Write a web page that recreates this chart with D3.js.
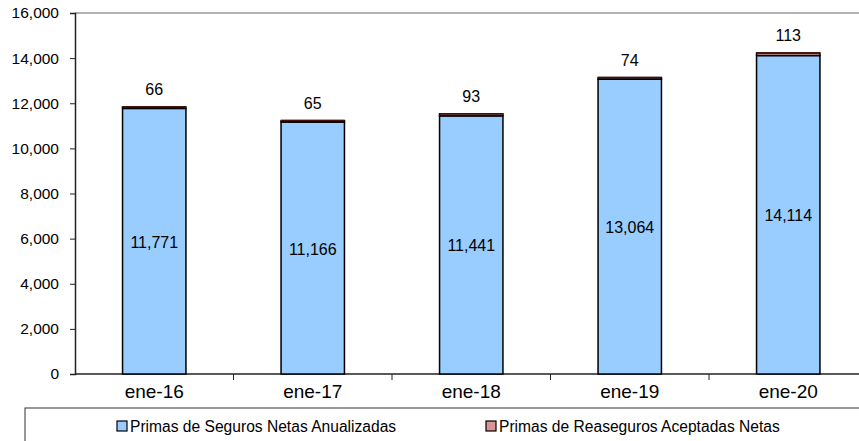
<!DOCTYPE html>
<html>
<head>
<meta charset="utf-8">
<script src="https://cdn.jsdelivr.net/npm/d3@7"></script>
<style>
    body { margin: 0; background: #fff; }
    svg { display: block; font-family: "Liberation Sans", Arial, sans-serif; }
</style>
</head>
<body>
<div id="chart"></div>
<script>
// data
const periods = ["ene-16", "ene-17", "ene-18", "ene-19", "ene-20"];
const primasSeguros = [11771, 11166, 11441, 13064, 14114];
const primasReaseguros = [66, 65, 93, 74, 113];
const yTicks = [0, 2000, 4000, 6000, 8000, 10000, 12000, 14000, 16000];
const seriesNames = ["Primas de Seguros Netas Anualizadas", "Primas de Reaseguros Aceptadas Netas"];
const seriesColors = ["#99ccff", "#d99594"];

let width = 859, height = 441;
let margin = {top: 13, left: 75, bottom: 67};
let plotRight = 867.5;

let svg = d3.select("#chart").append("svg")
    .attr("width", width)
    .attr("height", height);

let x = d3.scaleBand()
    .domain(periods)
    .range([margin.left, plotRight])
    .paddingInner(0.6)
    .paddingOuter(0.3);
let band = d3.scaleBand().domain(periods).range([margin.left, plotRight]);

let y = d3.scaleLinear()
    .domain([0, 16000])
    .range([height - margin.bottom, margin.top]);

// top border line
svg.append("line")
    .attr("x1", margin.left).attr("x2", width)
    .attr("y1", y(16000)).attr("y2", y(16000))
    .attr("stroke", "#999").attr("stroke-width", 1.5);

// y axis
let yAxis = svg.append("g")
    .attr("transform", `translate(${margin.left},0)`)
    .call(d3.axisLeft(y).tickValues(yTicks).tickSize(5).tickFormat(d3.format(",")));
yAxis.select(".domain").attr("stroke", "#222").attr("stroke-width", 1.5);
yAxis.selectAll(".tick line").attr("stroke", "#222");
yAxis.selectAll("text").attr("font-size", 15.5).attr("fill", "#000").attr("x", -16);

// x axis with ticks at band edges
let xAxisG = svg.append("g").attr("transform", `translate(0,${y(0)})`);
xAxisG.append("line")
    .attr("x1", margin.left).attr("x2", width)
    .attr("stroke", "#222").attr("stroke-width", 1.5);
xAxisG.selectAll(".edge")
    .data(periods.slice(1))
    .enter().append("line")
    .attr("class", "edge")
    .attr("x1", d => band(d)).attr("x2", d => band(d))
    .attr("y1", 0).attr("y2", 6)
    .attr("stroke", "#222");
xAxisG.selectAll(".lbl")
    .data(periods)
    .enter().append("text")
    .attr("class", "lbl")
    .attr("x", d => x(d) + x.bandwidth() / 2)
    .attr("y", 24)
    .attr("text-anchor", "middle")
    .attr("font-size", 19)
    .text(d => d);

let rows = periods.map((p, i) => ({key: p, a: primasSeguros[i], b: primasReaseguros[i]}));

// blue bars
svg.selectAll(".barA")
    .data(rows)
    .enter().append("rect")
    .attr("class", "barA")
    .attr("x", d => x(d.key))
    .attr("y", d => y(d.a))
    .attr("width", x.bandwidth())
    .attr("height", d => y(0) - y(d.a))
    .attr("fill", seriesColors[0])
    .attr("stroke", "#000")
    .attr("stroke-width", 1.5);

// reinsurance bars on top
svg.selectAll(".barB")
    .data(rows)
    .enter().append("rect")
    .attr("class", "barB")
    .attr("x", d => x(d.key))
    .attr("y", d => y(d.a + d.b))
    .attr("width", x.bandwidth())
    .attr("height", d => y(d.a) - y(d.a + d.b))
    .attr("fill", seriesColors[1])
    .attr("stroke", "#000")
    .attr("stroke-width", 1.5);
svg.selectAll(".topLine")
    .data(rows)
    .enter().append("line")
    .attr("class", "topLine")
    .attr("x1", d => x(d.key)).attr("x2", d => x(d.key) + x.bandwidth())
    .attr("y1", d => y(d.a + d.b)).attr("y2", d => y(d.a + d.b))
    .attr("stroke", "#4a0d0d").attr("stroke-width", 1.5);

// value labels
svg.selectAll(".lblA")
    .data(rows)
    .enter().append("text")
    .attr("class", "lblA")
    .attr("x", d => x(d.key) + x.bandwidth() / 2)
    .attr("y", d => y(d.a / 2) + 6.5)
    .attr("text-anchor", "middle")
    .attr("font-size", 16)
    .text(d => d3.format(",")(d.a));

svg.selectAll(".lblB")
    .data(rows)
    .enter().append("text")
    .attr("class", "lblB")
    .attr("x", d => x(d.key) + x.bandwidth() / 2)
    .attr("y", d => y(d.a + d.b) - 12)
    .attr("text-anchor", "middle")
    .attr("font-size", 16)
    .text(d => d3.format(",")(d.b));

// legend box
let legend = svg.append("g");
legend.append("rect")
    .attr("x", 25).attr("y", 408)
    .attr("width", 900).attr("height", 60)
    .attr("fill", "none").attr("stroke", "#333").attr("stroke-width", 1);

let legendX = [117, 486];
seriesNames.forEach(function (name, i) {
    legend.append("rect")
        .attr("x", legendX[i]).attr("y", 421)
        .attr("width", 10).attr("height", 10)
        .attr("fill", seriesColors[i])
        .attr("stroke", "#000").attr("stroke-width", 1.2);
    legend.append("text")
        .attr("x", legendX[i] + 13).attr("y", 432)
        .attr("font-size", 15.6)
        .text(name);
});
</script>
</body>
</html>
